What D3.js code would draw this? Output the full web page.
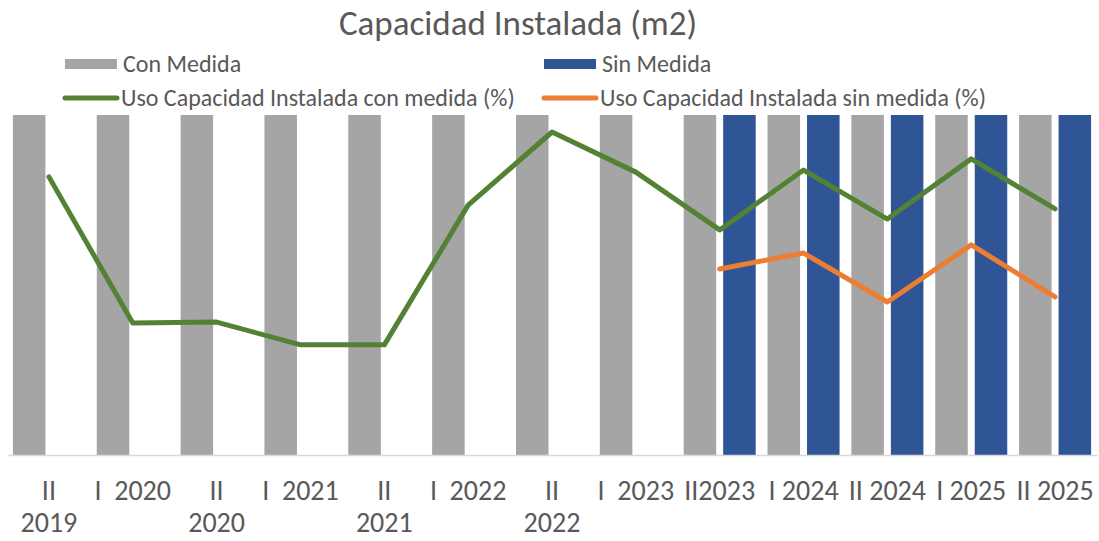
<!DOCTYPE html>
<html>
<head>
<meta charset="utf-8">
<script src="https://cdn.jsdelivr.net/npm/d3@7"></script>
<style>
    body { margin: 0; background: #fff; }
    svg text { font-family: Carlito, Calibri, Lato, sans-serif; fill: #595959; }
    .tick-label { white-space: pre; }
</style>
</head>
<body>
<div id="chart"></div>
<script>

// periods (tick labels as shown, "\n" = line break)
var periods = ["II\n2019", "I  2020", "II\n2020", "I  2021", "II\n2021", "I  2022", "II\n2022",
    "I  2023", "II2023", "I 2024", "II 2024", "I 2025", "II 2025"];

// installed capacity (m2) - bars all reach the top of the axis
var conMedida = [100, 100, 100, 100, 100, 100, 100, 100, 100, 100, 100, 100, 100];
var sinMedida = [null, null, null, null, null, null, null, null, 100, 100, 100, 100, 100];

// capacity use (%)
var usoConMedida = [81.8, 38.8, 39.1, 32.4, 32.4, 73.5, 95.0, 83.2, 66.2, 83.8, 69.4, 87.1, 72.4];
var usoSinMedida = [null, null, null, null, null, null, null, null, 54.7, 59.4, 45.0, 61.8, 46.5];

let width = 1099, height = 541;
let plot = {left: 7, right: 1097, top: 115, bottom: 455};

let svg = d3.select("#chart").append("svg")
    .attr("width", width)
    .attr("height", height);

let x = d3.scaleBand()
    .domain(periods)
    .range([plot.left, plot.right])
    .paddingInner(0.141)
    .paddingOuter(0.0705);

let x1 = d3.scaleBand()
    .domain(["con", "sin"])
    .range([0, x.bandwidth()])
    .paddingInner(0.177);

let yCap = d3.scaleLinear()
    .domain([0, 100])
    .range([plot.bottom, plot.top]);

let yPct = d3.scaleLinear()
    .domain([0, 100])
    .range([plot.bottom, plot.top]);

// ---- BARS ----
let rows = periods.map((p, i) => ({p: p, con: conMedida[i], sin: sinMedida[i]}));

svg.append("g").selectAll("rect")
    .data(rows)
    .enter()
    .append("rect")
    .attr("x", d => x(d.p) + x1("con"))
    .attr("y", d => yCap(d.con))
    .attr("width", x1.bandwidth())
    .attr("height", d => yCap(0) - yCap(d.con))
    .attr("fill", "#a5a5a5");

svg.append("g").selectAll("rect")
    .data(rows.filter(d => d.sin != null))
    .enter()
    .append("rect")
    .attr("x", d => x(d.p) + x1("sin"))
    .attr("y", d => yCap(d.sin))
    .attr("width", x1.bandwidth())
    .attr("height", d => yCap(0) - yCap(d.sin))
    .attr("fill", "#2f5597");

// ---- AXIS ----
let xAxis = d3.axisBottom(x).tickSize(0).tickFormat("");
svg.append("g")
    .attr("transform", "translate(0," + plot.bottom + ")")
    .call(xAxis)
    .call(g => g.select(".domain").attr("stroke", "#d9d9d9").attr("stroke-width", 1.5));

let labels = svg.append("g").selectAll("text")
    .data(periods)
    .enter()
    .append("text")
    .attr("class", "tick-label")
    .attr("text-anchor", "middle")
    .attr("font-size", 28)
    .attr("y", 500);

labels.each(function(d) {
    let parts = d.split("\n");
    let t = d3.select(this);
    parts.forEach((s, k) => {
        t.append("tspan")
            .attr("x", x(d) + x.bandwidth() / 2)
            .attr("dy", k === 0 ? 0 : 32)
            .text(s);
    });
});

// ---- LINES ----
let line = d3.line()
    .defined(d => d.v != null)
    .x(d => x(d.p) + x.bandwidth() / 2)
    .y(d => yPct(d.v));

svg.append("path")
    .datum(periods.map((p, i) => ({p: p, v: usoConMedida[i]})))
    .attr("d", line)
    .attr("fill", "none")
    .attr("stroke", "#548235")
    .attr("stroke-width", 5)
    .attr("stroke-linejoin", "round")
    .attr("stroke-linecap", "round");

svg.append("path")
    .datum(periods.map((p, i) => ({p: p, v: usoSinMedida[i]})))
    .attr("d", line)
    .attr("fill", "none")
    .attr("stroke", "#ed7d31")
    .attr("stroke-width", 5)
    .attr("stroke-linejoin", "round")
    .attr("stroke-linecap", "round");

// ---- TITLE ----
svg.append("text")
    .attr("x", 518)
    .attr("y", 35)
    .attr("text-anchor", "middle")
    .attr("font-size", 35)
    .text("Capacidad Instalada (m2)");

// ---- LEGEND ----
let legend = [
    {name: "Con Medida", color: "#a5a5a5", type: "rect", x: 65, y: 64},
    {name: "Sin Medida", color: "#2f5597", type: "rect", x: 544, y: 64},
    {name: "Uso Capacidad Instalada con medida (%)", color: "#548235", type: "line", x: 63, y: 98},
    {name: "Uso Capacidad Instalada sin medida (%)", color: "#ed7d31", type: "line", x: 542, y: 98}
];

let items = svg.append("g").selectAll("g")
    .data(legend)
    .enter()
    .append("g")
    .attr("transform", d => "translate(" + d.x + "," + d.y + ")");

items.filter(d => d.type === "rect")
    .append("rect")
    .attr("x", 0)
    .attr("y", -5)
    .attr("width", 52)
    .attr("height", 10)
    .attr("fill", d => d.color);

items.filter(d => d.type === "line")
    .append("line")
    .attr("x1", 2)
    .attr("x2", 54)
    .attr("stroke", d => d.color)
    .attr("stroke-width", 5)
    .attr("stroke-linecap", "round");

items.append("text")
    .attr("x", 58)
    .attr("dy", "0.35em")
    .attr("font-size", 24)
    .text(d => d.name);

</script>
</body>
</html>
